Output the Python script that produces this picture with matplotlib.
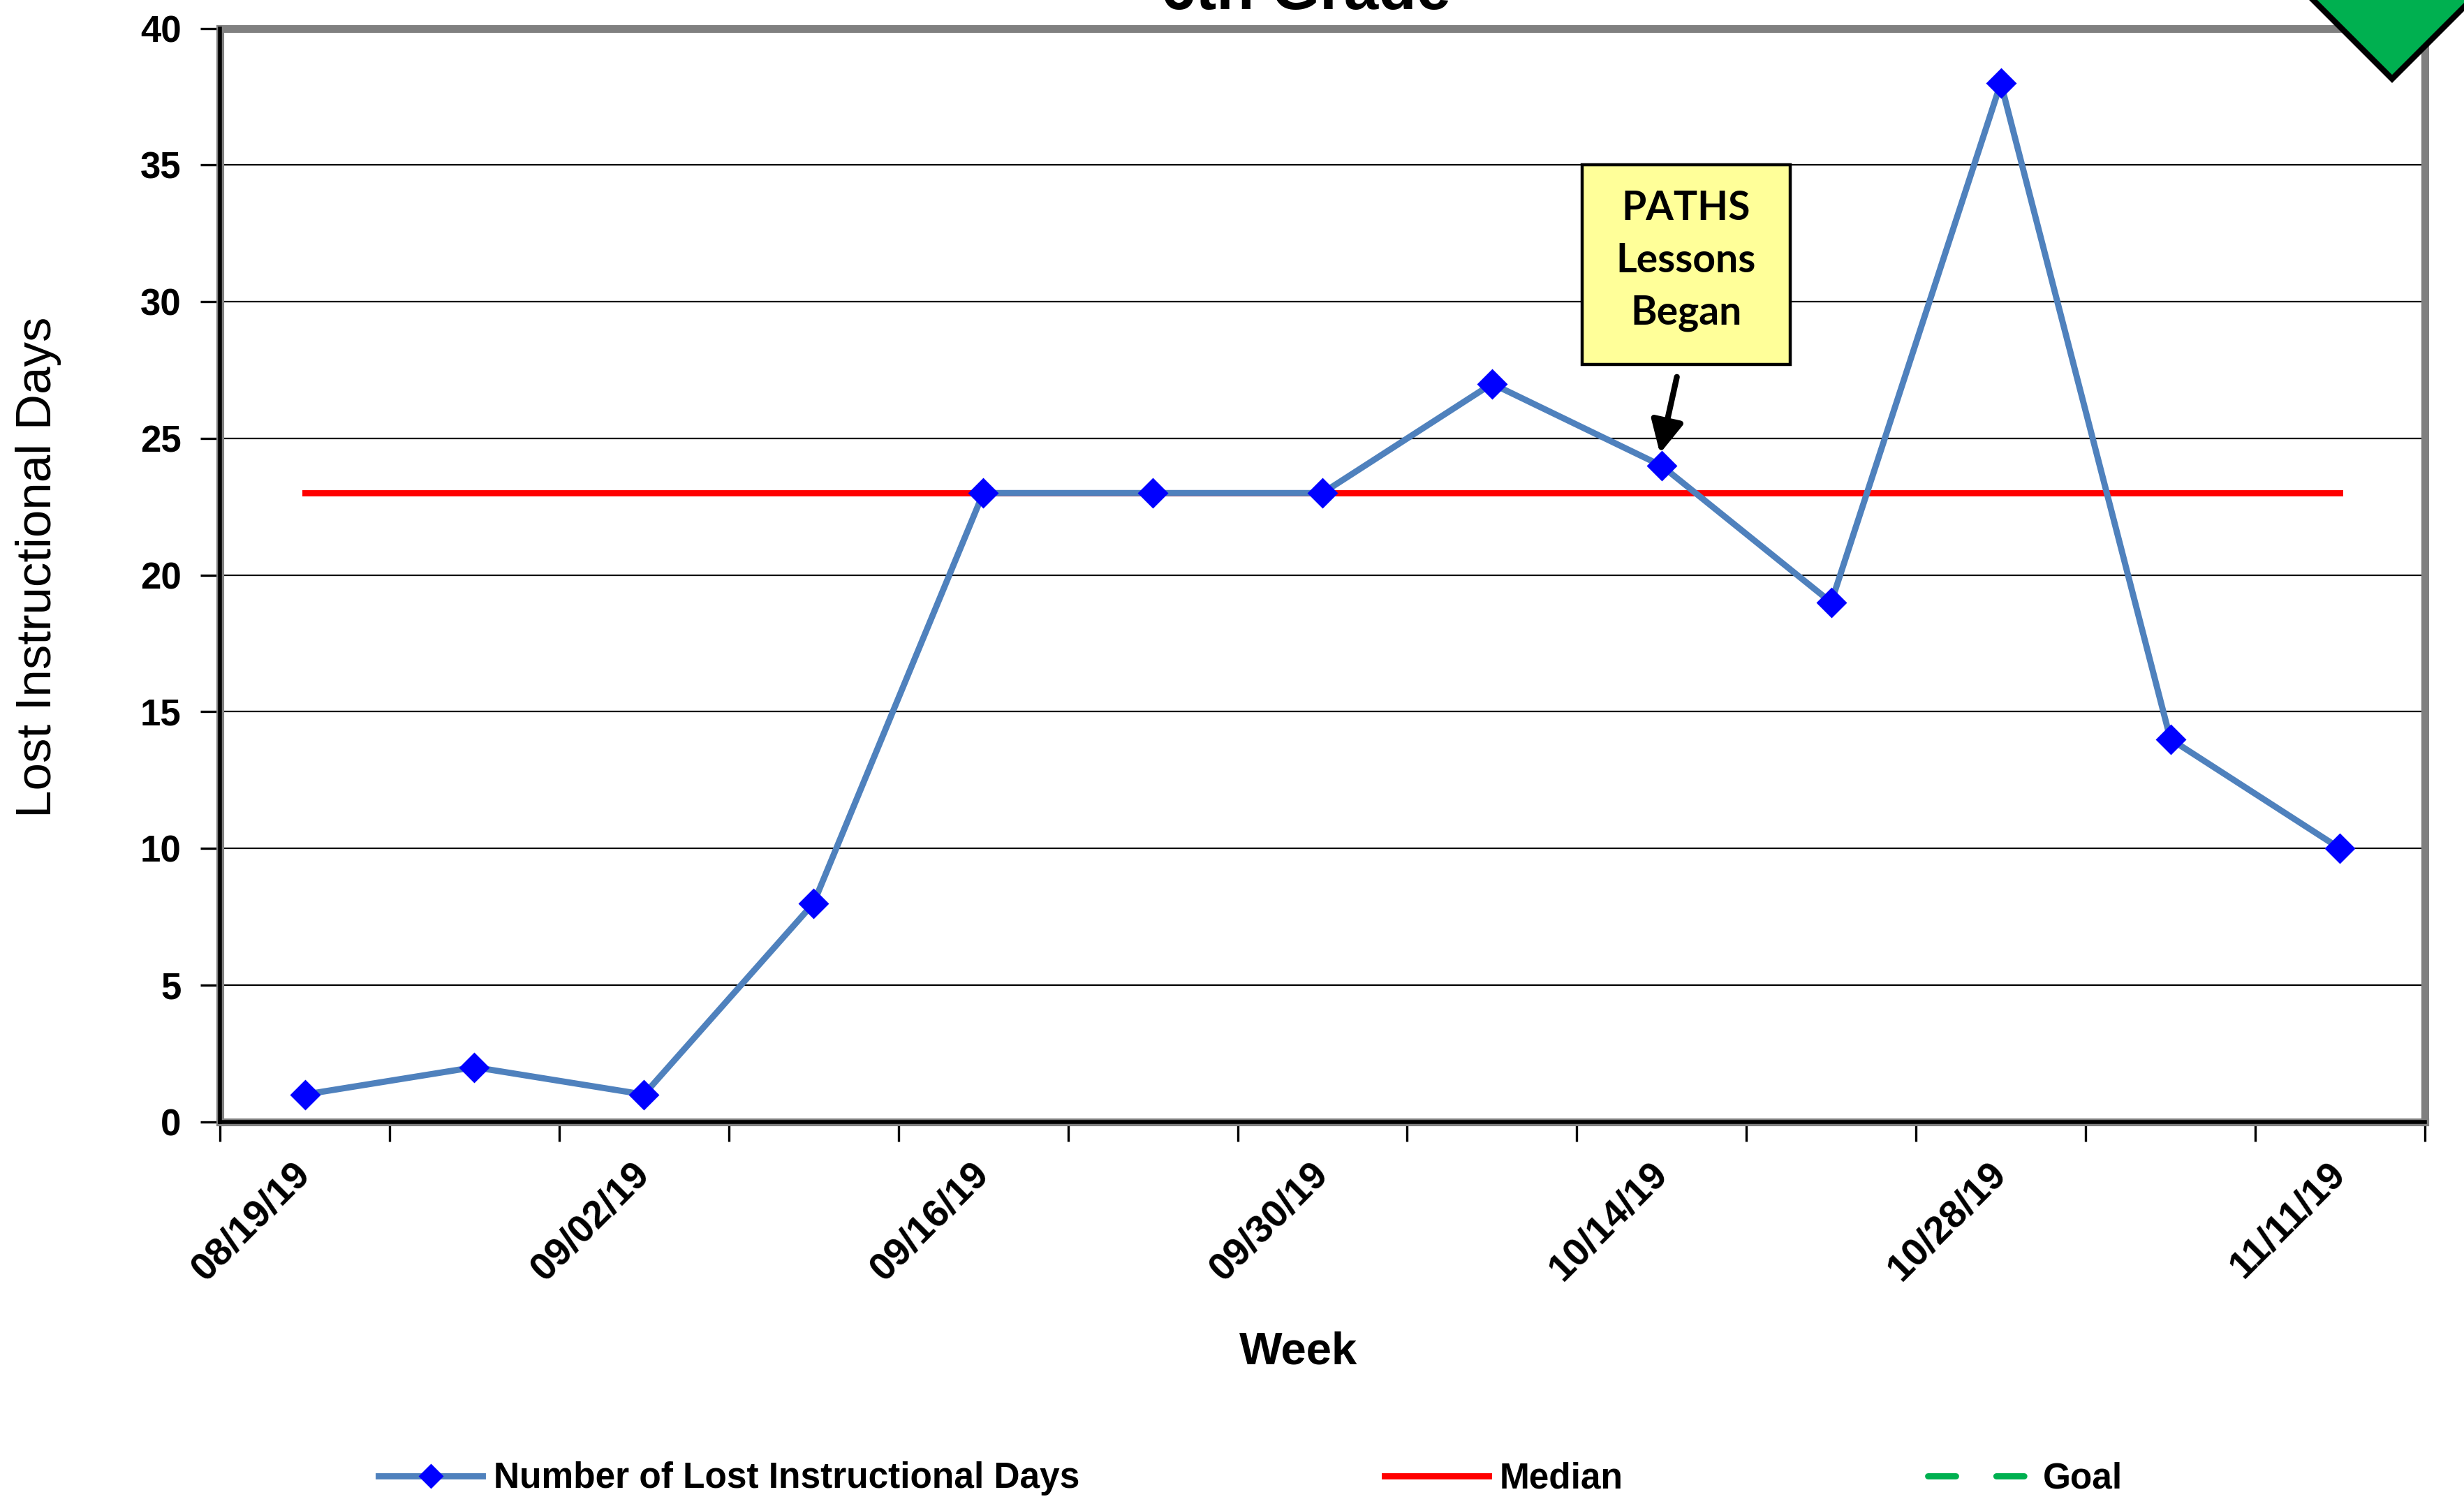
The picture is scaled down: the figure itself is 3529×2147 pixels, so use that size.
import matplotlib
matplotlib.use("Agg")
import matplotlib.pyplot as plt
from matplotlib.lines import Line2D
from matplotlib.patches import Rectangle, Polygon

# Weekly data
weeks = ["08/19/19", "08/26/19", "09/02/19", "09/09/19", "09/16/19", "09/23/19",
         "09/30/19", "10/07/19", "10/14/19", "10/21/19", "10/28/19", "11/04/19",
         "11/11/19"]
lost_days = [1, 2, 1, 8, 23, 23, 23, 27, 24, 19, 38, 14, 10]
median_value = 23
y_ticks = [0, 5, 10, 15, 20, 25, 30, 35, 40]
annotation_week = "10/14/19"

W, H, DPI = 3529, 2147, 200
fig = plt.figure(figsize=(W / DPI, H / DPI), dpi=DPI)
fig.patch.set_facecolor("white")

FONT = "Liberation Sans"
ax = fig.add_axes([0.0893, 0.2516, 0.9841 - 0.0893, 0.9811 - 0.2516])

x = list(range(len(weeks)))
ax.plot(x, lost_days, color="#4F81BD", lw=3.2, marker="D", markersize=10,
        markerfacecolor="#0000FF", markeredgecolor="#0000FF", zorder=4,
        label="Number of Lost Instructional Days")
ax.plot([x[0], x[-1]], [median_value, median_value], color="#FF0000", lw=3.2,
        zorder=3, label="Median")

ax.set_xlim(-0.5, len(weeks) - 0.5)
ax.set_ylim(0, 40)
ax.set_yticks(y_ticks)
ax.yaxis.grid(True, color="black", lw=0.8)
ax.set_axisbelow(True)

# category labels every other week, tick marks between categories
ax.set_xticks(x[::2])
ax.set_xticklabels(weeks[::2], rotation=45, ha="right", va="center",
                   rotation_mode="anchor", fontsize=20, fontweight="bold",
                   family=FONT)
ax.set_xticks([i - 0.5 for i in range(len(weeks) + 1)], minor=True)
ax.tick_params(axis="x", which="major", length=0, pad=24)
ax.tick_params(axis="x", which="minor", length=10, width=1.2, color="black",
               direction="out")
ax.tick_params(axis="y", length=10, width=1.2, color="black", pad=10)
for lbl in ax.get_yticklabels():
    lbl.set_fontsize(19)
    lbl.set_fontweight("bold")
    lbl.set_family(FONT)

for s in ax.spines.values():
    s.set_color("#808080")
    s.set_linewidth(4)
ax.plot([0, 0], [0, 1], transform=ax.transAxes, color="black", lw=2,
        clip_on=False, zorder=5)
ax.plot([0, 1], [0, 0], transform=ax.transAxes, color="black", lw=2,
        clip_on=False, zorder=5)

ax.set_ylabel("Lost Instructional Days", fontsize=25.5, family=FONT)
ax.yaxis.set_label_coords(-0.0718, 0.507, transform=ax.transAxes)
fig.text(0.527, 1 - 1936 / H, "Week", fontsize=23.5, fontweight="bold",
         family=FONT, ha="center", va="center")

# Annotation box
ai = weeks.index(annotation_week)
ax.add_patch(Rectangle((7.53, 27.7), 8.76 - 7.53, 35.0 - 27.7,
                       facecolor="#FFFF99", edgecolor="black", lw=1.6, zorder=6))
ax.text((7.53 + 8.76) / 2, 31.5, "PATHS\nLessons\nBegan", ha="center",
        va="center", fontsize=20.5, fontweight="bold", family="Lato",
        linespacing=1.5, zorder=7)
ax.annotate("", xy=(ai - 0.01, lost_days[ai] + 0.45), xytext=(ai + 0.09, 27.25),
            arrowprops=dict(arrowstyle="-|>,head_width=0.35,head_length=0.7",
                            color="black", lw=3, mutation_scale=20,
                            shrinkA=0, shrinkB=0), zorder=7)

# Title, partly above the top edge
fig.text(0.530, 1 - 13 / H, "6th Grade", fontsize=32, fontweight="bold",
         family=FONT, ha="center", va="baseline")

# Status marker in the corner
tip = (3426, 113)
pts = [(tip[0], tip[1]), (tip[0] - 260, tip[1] - 260), (tip[0] + 260, tip[1] - 260)]
fig.patches.append(Polygon([(px / W, 1 - py / H) for px, py in pts], closed=True,
                           transform=fig.transFigure, facecolor="#00B050",
                           edgecolor="black", lw=3, zorder=10))

# Legend
handles = [
    Line2D([], [], color="#4F81BD", lw=3.2, marker="D", markersize=8,
           markerfacecolor="#0000FF", markeredgecolor="#0000FF"),
    Line2D([], [], color="#FF0000", lw=3.2),
    Line2D([], [], color="#00B050", lw=3.2, linestyle=(0, (4.5, 6.5)),
           dash_capstyle="round"),
]
labels = ["Number of Lost Instructional Days", "Median", "Goal"]
fig.legend(handles, labels, loc="center", bbox_to_anchor=(0.5075, 1 - 2118 / H),
           ncol=3, frameon=False, columnspacing=8.5, handlelength=2.9,
           handletextpad=0.3, prop={"family": FONT, "weight": "bold", "size": 18.5})

fig.savefig("out.png", dpi=DPI)
